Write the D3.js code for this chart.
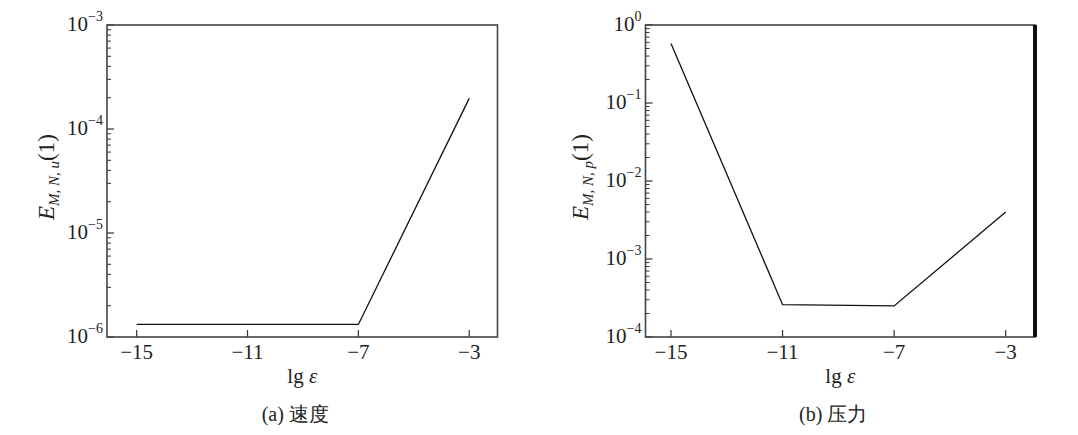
<!DOCTYPE html>
<html><head><meta charset="utf-8">
<script src="https://cdn.jsdelivr.net/npm/d3@7"></script>
<style>
body{margin:0;background:#fff;}
svg text{font-family:"Liberation Serif","Times New Roman",serif;fill:#222;}
</style></head>
<body><svg id="c" width="1078" height="435"></svg>
<script>
// ---- data ----
const xTickValues = [-15, -11, -7, -3];
const epsA = [-15, -7, -3];
const velocityErr = [1.32e-6, 1.32e-6, 1.97e-4];
const epsB = [-15, -11, -7, -3];
const pressureErr = [0.58, 2.6e-4, 2.5e-4, 4.0e-3];
const yDecadesA = [-3, -4, -5, -6];
const yDecadesB = [0, -1, -2, -3, -4];
const xLabel = "lg ";
const xLabelSym = "ε";
const captionA = "(a) 速度";
const captionB = "(b) 压力";
const ySubA = "M, N, u";
const ySubB = "M, N, p";

const svg = d3.select("#c");

function panel(opt){
  const g = svg.append("g");
  const x = d3.scaleLinear().domain(opt.xDomain).range([opt.left, opt.right]);
  const y = d3.scaleLog().domain(opt.yDomain).range([opt.bottom, opt.top]);
  const lo = Math.log10(opt.yDomain[0]), hi = Math.log10(opt.yDomain[1]);
  for(let k=lo;k<hi;k++){
    for(let m=2;m<=9;m++){
      const v = m*Math.pow(10,k);
      g.append("line").attr("x1",opt.left).attr("x2",opt.left+4)
        .attr("y1",y(v)).attr("y2",y(v)).attr("stroke","#333").attr("stroke-width",1);
    }
  }
  opt.yDecades.forEach(d=>{
    const v = Math.pow(10,d);
    g.append("line").attr("x1",opt.left).attr("x2",opt.left+7)
      .attr("y1",y(v)).attr("y2",y(v)).attr("stroke","#333").attr("stroke-width",1.2);
    const t = g.append("text").attr("x",opt.left-4).attr("y",y(v)+6)
      .attr("text-anchor","end").style("font-size","21px");
    t.append("tspan").text("10");
    t.append("tspan").attr("dy",-10).style("font-size","14px").text(d===0?"0":"−"+(-d));
  });
  xTickValues.forEach(v=>{
    g.append("line").attr("x1",x(v)).attr("x2",x(v))
      .attr("y1",opt.bottom).attr("y2",opt.bottom-7).attr("stroke","#333").attr("stroke-width",1.2);
    g.append("text").attr("x",x(v)).attr("y",opt.bottom+22).attr("text-anchor","middle")
      .style("font-size","21px").text("−"+(-v));
  });
  g.append("rect").attr("x",opt.left).attr("y",opt.top)
    .attr("width",opt.right-opt.left).attr("height",opt.bottom-opt.top)
    .attr("fill","none").attr("stroke","#444").attr("stroke-width",1.6);
  if(opt.thickRight){
    g.append("line").attr("x1",opt.right).attr("x2",opt.right)
      .attr("y1",opt.top).attr("y2",opt.bottom).attr("stroke","#111").attr("stroke-width",4);
  }
  const line = d3.line().x(d=>x(d[0])).y(d=>y(d[1]));
  g.append("path").datum(opt.xs.map((v,i)=>[v,opt.ys[i]]))
    .attr("d",line).attr("fill","none").attr("stroke","#111").attr("stroke-width",1.3);
  const cx = (opt.left+opt.right)/2;
  const xl = g.append("text").attr("x",cx).attr("y",opt.bottom+46).attr("text-anchor","middle")
    .style("font-size","21px");
  xl.append("tspan").text(xLabel);
  xl.append("tspan").style("font-style","italic").text(xLabelSym);
  g.append("text").attr("x",cx-7).attr("y",opt.bottom+84).attr("text-anchor","middle")
    .style("font-size","20px").text(opt.caption);
  const yl = g.append("text").attr("transform",`translate(${opt.ylx},${opt.yly}) rotate(-90)`)
    .attr("text-anchor","middle").style("font-size","23px");
  yl.append("tspan").style("font-style","italic").text("E");
  yl.append("tspan").attr("dy",5).style("font-style","italic").style("font-size","15px").text(opt.ysub);
  yl.append("tspan").attr("dy",-5).text("(1)");
}

panel({left:107,right:497.5,top:25,bottom:337,xDomain:[-16.07,-1.98],yDomain:[1e-6,1e-3],
  yDecades:yDecadesA,xs:epsA,ys:velocityErr,caption:captionA,ysub:ySubA,ylx:54,yly:177,thickRight:false});
panel({left:645.5,right:1035,top:25,bottom:337,xDomain:[-15.914,-1.95],yDomain:[1e-4,1],
  yDecades:yDecadesB,xs:epsB,ys:pressureErr,caption:captionB,ysub:ySubB,ylx:588,yly:177,thickRight:true});
</script></body></html>
